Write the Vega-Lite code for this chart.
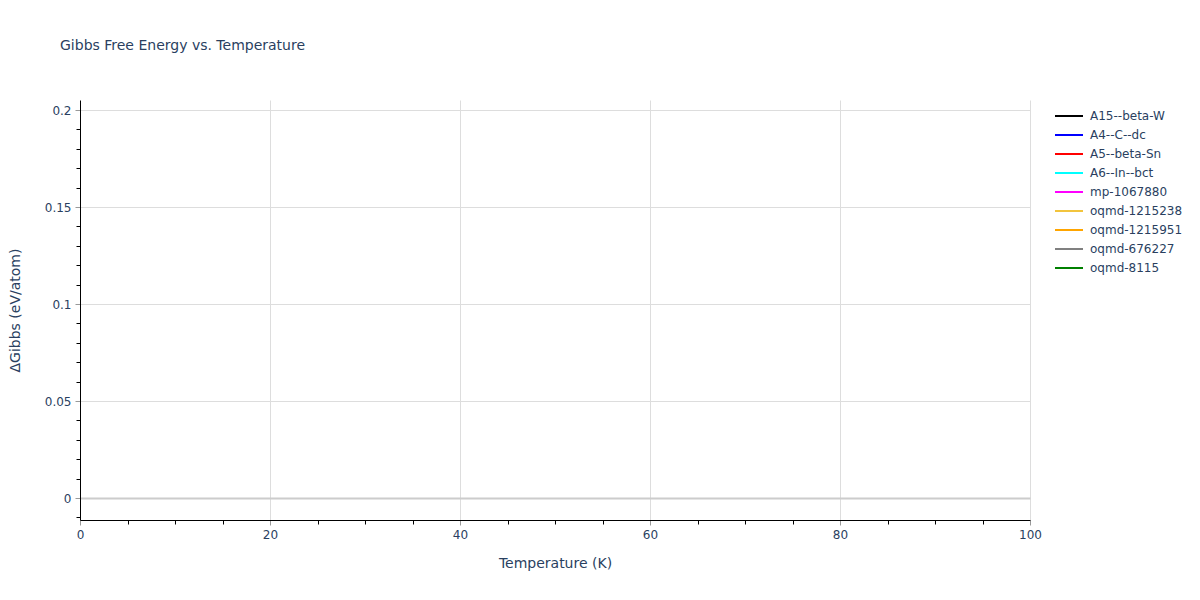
{
  "$schema": "https://vega.github.io/schema/vega-lite/v6.json",
  "width": 950,
  "height": 420,
  "autosize": {"type": "none"},
  "padding": {"left": 80, "top": 100, "right": 170, "bottom": 80},
  "background": "white",
  "title": {
    "text": "Gibbs Free Energy vs. Temperature",
    "anchor": "start",
    "frame": "group",
    "dx": -20,
    "offset": 47,
    "fontSize": 14,
    "fontWeight": "normal",
    "color": "#2a3f5f",
    "font": "DejaVu Sans"
  },
  "data": {
    "values": [
      {"phase": "A15--beta-W", "T": null, "G": null},
      {"phase": "A4--C--dc", "T": null, "G": null},
      {"phase": "A5--beta-Sn", "T": null, "G": null},
      {"phase": "A6--In--bct", "T": null, "G": null},
      {"phase": "mp-1067880", "T": null, "G": null},
      {"phase": "oqmd-1215238", "T": null, "G": null},
      {"phase": "oqmd-1215951", "T": null, "G": null},
      {"phase": "oqmd-676227", "T": null, "G": null},
      {"phase": "oqmd-8115", "T": null, "G": null}
    ]
  },
  "mark": {"type": "line", "strokeWidth": 2},
  "encoding": {
    "x": {
      "field": "T",
      "type": "quantitative",
      "title": "Temperature (K)",
      "scale": {"domain": [0, 100], "nice": false, "zero": false},
      "axis": {
        "values": [0, 5, 10, 15, 20, 25, 30, 35, 40, 45, 50, 55, 60, 65, 70, 75, 80, 85, 90, 95, 100],
        "labelExpr": "datum.value % 20 === 0 ? datum.label : ''",
        "labelFlush": false,
        "grid": true,
        "gridColor": "#dddddd",
        "gridWidth": 1,
        "gridOpacity": {"condition": {"test": "datum.value % 20 === 0 && datum.value > 0", "value": 1}, "value": 0},
        "tickColor": {"condition": {"test": "datum.value % 20 === 0", "value": "#999999"}, "value": "#000000"},
        "tickSize": {"condition": {"test": "datum.value % 20 === 0", "value": 5}, "value": 4},
        "domainColor": "#000000",
        "labelFontSize": 12,
        "labelColor": "#2a3f5f",
        "labelPadding": 4,
        "titleFontSize": 14,
        "titleFontWeight": "normal",
        "titleColor": "#2a3f5f",
        "titlePadding": 16
      }
    },
    "y": {
      "field": "G",
      "type": "quantitative",
      "title": "ΔGibbs (eV/atom)",
      "scale": {"domain": [-0.0113, 0.2052], "nice": false, "zero": false},
      "axis": {
        "values": [-0.01, 0, 0.01, 0.02, 0.03, 0.04, 0.05, 0.06, 0.07, 0.08, 0.09, 0.1, 0.11, 0.12, 0.13, 0.14, 0.15, 0.16, 0.17, 0.18, 0.19, 0.2],
        "labelExpr": "abs(round(datum.value * 100) % 5) === 0 ? format(datum.value, '~g') : ''",
        "labelFlush": false,
        "grid": true,
        "gridColor": {"condition": {"test": "round(datum.value * 100) === 0", "value": "#cccccc"}, "value": "#dddddd"},
        "gridWidth": {"condition": {"test": "round(datum.value * 100) === 0", "value": 2}, "value": 1},
        "gridOpacity": {"condition": {"test": "abs(round(datum.value * 100) % 5) === 0", "value": 1}, "value": 0},
        "tickColor": {"condition": {"test": "abs(round(datum.value * 100) % 5) === 0", "value": "#999999"}, "value": "#000000"},
        "tickSize": {"condition": {"test": "abs(round(datum.value * 100) % 5) === 0", "value": 5}, "value": 4},
        "domainColor": "#000000",
        "labelFontSize": 12,
        "labelColor": "#2a3f5f",
        "labelPadding": 4,
        "titleFontSize": 14,
        "titleFontWeight": "normal",
        "titleColor": "#2a3f5f",
        "titlePadding": 22
      }
    },
    "color": {
      "field": "phase",
      "type": "nominal",
      "scale": {
        "domain": ["A15--beta-W", "A4--C--dc", "A5--beta-Sn", "A6--In--bct", "mp-1067880", "oqmd-1215238", "oqmd-1215951", "oqmd-676227", "oqmd-8115"],
        "range": ["#000000", "#0000ff", "#ff0000", "#00ffff", "#ff00ff", "#f2c43d", "#ffa500", "#808080", "#008000"]
      },
      "legend": {
        "title": null,
        "orient": "none",
        "legendX": 981,
        "legendY": 8,
        "symbolType": "M-2,0H2",
        "symbolSize": 196,
        "symbolStrokeWidth": 2,
        "labelFontSize": 12,
        "labelColor": "#2a3f5f",
        "labelOffset": 13,
        "rowPadding": 5
      }
    }
  },
  "config": {
    "font": "DejaVu Sans",
    "view": {"stroke": null},
    "axis": {"labelFont": "DejaVu Sans", "titleFont": "DejaVu Sans"},
    "legend": {"labelFont": "DejaVu Sans"}
  }
}
